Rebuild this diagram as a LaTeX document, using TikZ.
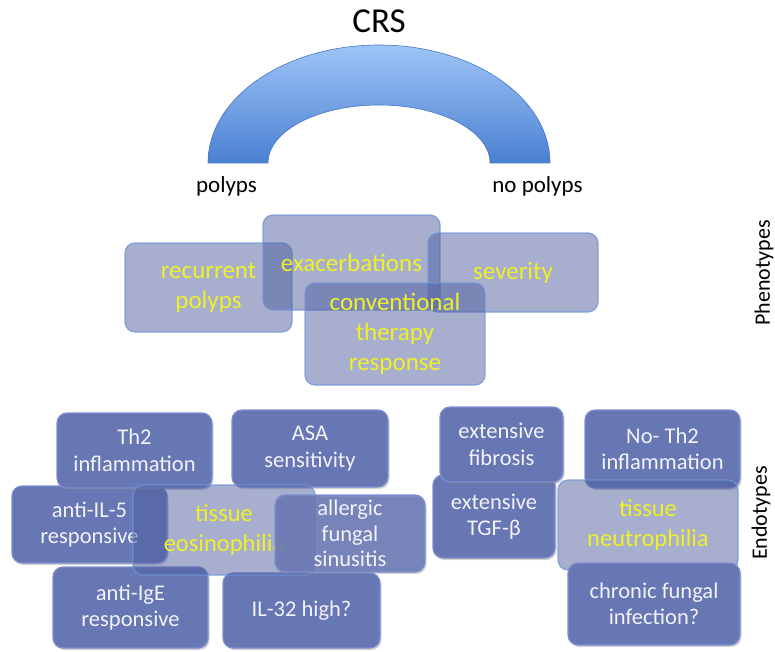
\documentclass[tikz,border=0pt]{standalone}
\usepackage{fontspec}
\setmainfont{Carlito}
\usetikzlibrary{shadows}
\definecolor{arcTop}{HTML}{9EC4F6}
\definecolor{arcBot}{HTML}{4A80D2}
\definecolor{arcEdge}{HTML}{4577C4}
\definecolor{endoFill}{HTML}{6777B4}
\definecolor{endoEdge}{HTML}{7D8DD0}
\definecolor{tranFill}{HTML}{4F5E9E}
\definecolor{tranEdge}{HTML}{6F94D8}
\definecolor{yel}{HTML}{F0F028}
\definecolor{whitetext}{HTML}{F2F2F8}
\tikzset{
  boxbase/.style={rectangle, rounded corners=10pt, align=center, inner sep=0pt,
    line width=1.2pt},
  endo/.style={boxbase, fill=endoFill, draw=endoEdge, text=whitetext,
    font=\fontsize{22.5}{26.5}\selectfont,
    drop shadow={opacity=0.35, shadow xshift=1.5pt, shadow yshift=-2pt}},
  tran/.style={boxbase, fill=tranFill, fill opacity=0.5, draw=tranEdge, draw opacity=0.8,
    text opacity=1, text=yel},
  pheno/.style={tran, font=\fontsize{25}{30}\selectfont},
  tranendo/.style={tran, font=\fontsize{24.5}{30}\selectfont},
  lbl/.style={font=\fontsize{23}{26}\selectfont, text=black},
  sidelbl/.style={font=\fontsize{22}{26}\selectfont, text=black, rotate=90},
}
\begin{document}
\begin{tikzpicture}[x=1pt,y=1pt]
\useasboundingbox (0,0) rectangle (775,-652);
% arc
\path[top color=arcTop, bottom color=arcBot, draw=arcEdge, line width=0.6pt]
  (208,-163) arc[start angle=180, end angle=0, x radius=171pt, y radius=118pt]
  -- (490,-163) arc[start angle=0, end angle=180, x radius=111pt, y radius=58pt]
  -- cycle;
\node[font=\fontsize{35}{38}\selectfont] (crs) at (379,-21) {CRS};
\node[lbl] (pol) at (226.5,-186) {polyps};
\node[lbl] (nopol) at (537.5,-186) {no polyps};
% phenotypes
\node[pheno, minimum width=167pt, minimum height=89pt] (rec) at (208.5,-287.5) {recurrent\\polyps};
\node[pheno, minimum width=177pt, minimum height=95pt] (exa) at (351.5,-262.5) {exacerbations};
\node[pheno, minimum width=170pt, minimum height=79pt] (sev) at (513,-272.5) {severity};
\node[pheno, minimum width=180pt, minimum height=102pt] (conv) at (395,-334) {conventional\\therapy\\response};
\node[sidelbl] (phen) at (764,-273) {Phenotypes};
% endotypes left
\node[endo, minimum width=155pt, minimum height=77pt] (il5) at (89.5,-524.5) {anti-IL-5\\responsive};
\node[endo, minimum width=155pt, minimum height=75pt] (th2) at (134.5,-450.5) {Th2\\inflammation};
\node[endo, minimum width=156pt, minimum height=77pt] (asa) at (310,-448.5) {ASA\\sensitivity};
\node[endo, minimum width=155pt, minimum height=81pt] (ige) at (130.5,-607.5) {anti-IgE\\responsive};
\node[endo, minimum width=157pt, minimum height=75pt] (il32) at (301.5,-610.5) {IL-32 high?};
\node[tranendo, minimum width=182pt, minimum height=90pt] (eos) at (224,-530) {tissue\\eosinophilia};
\node[endo, font=\fontsize{22.5}{25.5}\selectfont, fill opacity=0.85, text opacity=1, minimum width=150pt, minimum height=77pt] (afs) at (350,-533.5) {allergic\\fungal\\sinusitis};
% endotypes right
\node[endo, minimum width=122pt, minimum height=83pt] (tgf) at (494,-516.5) {extensive\\TGF-β};
\node[endo, minimum width=123pt, minimum height=75pt] (fib) at (501.5,-444.5) {extensive\\fibrosis};
\node[endo, minimum width=155pt, minimum height=78pt] (noth2) at (662.5,-449) {No- Th2\\inflammation};
\node[tranendo, minimum width=180pt, minimum height=90pt] (neu) at (648,-525) {tissue\\neutrophilia};
\node[endo, minimum width=172pt, minimum height=82pt] (cfi) at (654,-604) {chronic fungal\\infection?};
\node[sidelbl] (endt) at (761,-513) {Endotypes};
\end{tikzpicture}
\end{document}
